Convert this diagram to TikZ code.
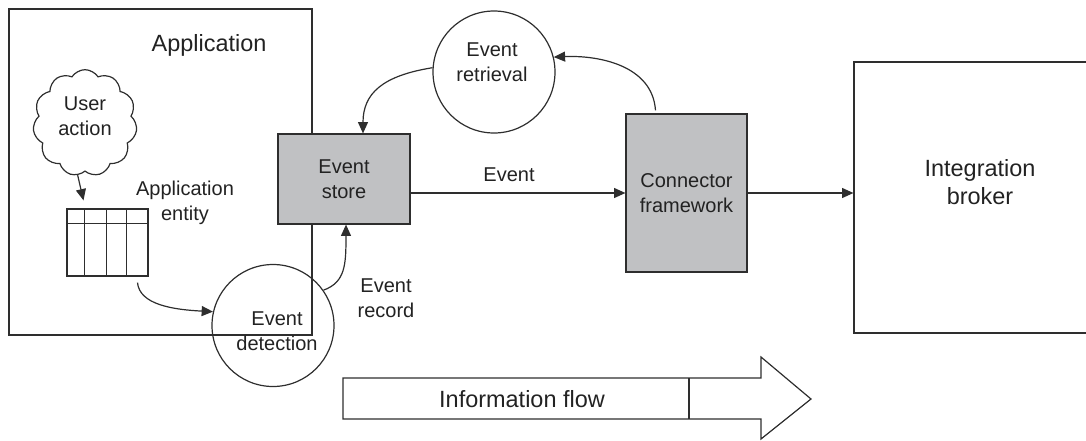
\documentclass[tikz,border=0pt]{standalone}
\usepackage{fontspec}
\setmainfont{Liberation Sans}
\usetikzlibrary{arrows.meta,shapes.symbols,calc}
\definecolor{ln}{HTML}{2E2E2E}
\definecolor{boxgray}{HTML}{C0C1C3}
\definecolor{txt}{HTML}{222222}
\begin{document}
\begin{tikzpicture}[x=0.75pt,y=-0.75pt,
  box/.style={draw=ln, line width=0.9pt, rectangle, inner sep=0pt},
  gbox/.style={box, fill=boxgray, text=txt, align=center, font=\fontsize{15}{18.75}\selectfont},
  ell/.style={draw=ln, line width=0.9pt, circle, minimum size=91.5pt, inner sep=0pt},
  lbl/.style={text=txt, font=\fontsize{15}{18.75}\selectfont, align=center, inner sep=0pt},
  biglbl/.style={text=txt, font=\fontsize{17.6}{21}\selectfont, align=center, inner sep=0pt},
  arr/.style={draw=ln, line width=0.9pt, -{Triangle[length=8.5pt,width=7.5pt]}},
  plain/.style={draw=ln, line width=0.9pt}]
\useasboundingbox (0,0) rectangle (1086,440);
\clip (0,0) rectangle (1086,440);

% application box
\node[box, minimum width=227.25pt, minimum height=244.5pt] (app) at (160.5,172) {};
\node[biglbl] (apptitle) at (209,45) {Application};

% user action cloud
\node[cloud, draw=ln, line width=0.9pt, cloud puffs=11, cloud puff arc=115, aspect=1,
      minimum width=78pt, minimum height=80pt, inner sep=0pt] (cloud) at (85,123) {};
\node[lbl] (useract) at (85,116) {User\\action};

% application entity table
\node[box, minimum width=60.75pt, minimum height=50.25pt] (tbl) at (107.5,242.5) {};
\draw[plain] ($(tbl.north west)+(0,15)$) -- ($(tbl.north east)+(0,15)$);
\foreach \d in {18,40,60}
  \draw[plain] ($(tbl.north west)+(\d,0)$) -- ($(tbl.south west)+(\d,0)$);
\node[lbl] (entlbl) at (185,203) {Application\\entity};

% event store
\node[gbox, minimum width=99pt, minimum height=67.5pt] (store) at (344,179) {Event\\store};

% event detection
\node[ell] (det) at (273,325.5) {};
\node[lbl] (detlbl) at (277,331.5) {Event\\detection};

% event retrieval
\node[ell] (ret) at (494,72) {};
\node[lbl] (retlbl) at (492,62.5) {Event\\retrieval};

% connector framework
\node[gbox, minimum width=90.75pt, minimum height=118.5pt] (conn) at (686.5,193) {Connector\\framework};

% integration broker
\node[box, minimum width=192pt, minimum height=203.25pt] (broker) at (982,197.5) {};
\node[biglbl] (brokerlbl) at (980,182) {Integration\\broker};

% labels
\node[lbl] (evlbl) at (509,175) {Event};
\node[lbl] (reclbl) at (386,298) {Event\\record};

% connectors
\draw[arr] (cloud.262) -- ($(tbl.north)+(-24,-8)$);
\draw[arr] ($(tbl.south)+(30,6)$) .. controls +(2,22) and +(-40,-2) .. (det.167);
\draw[arr] (det.35) .. controls +(22,-8) and +(0,40) .. ($(store.south)+(2,0)$);
\draw[arr] (store.east |- conn.west) -- (conn.west);
\draw[arr] (conn.east) -- (conn.east -| broker.west);
\draw[arr] ($(conn.north)+(-31,-3)$) .. controls +(-3,-45) and +(45,-2) .. (ret.14);
\draw[arr] (ret.176) .. controls +(-50,8) and +(0,-40) .. ($(store.north)+(19,0)$);

% information flow arrow
\draw[plain] (343,378) -- (761,378) -- (761,357) -- (811,399) -- (761,439) -- (761,419) -- (343,419) -- cycle;
\draw[plain] (689,378) -- (689,419);
\node[biglbl] (flowlbl) at (522,399) {Information flow};
\end{tikzpicture}
\end{document}
